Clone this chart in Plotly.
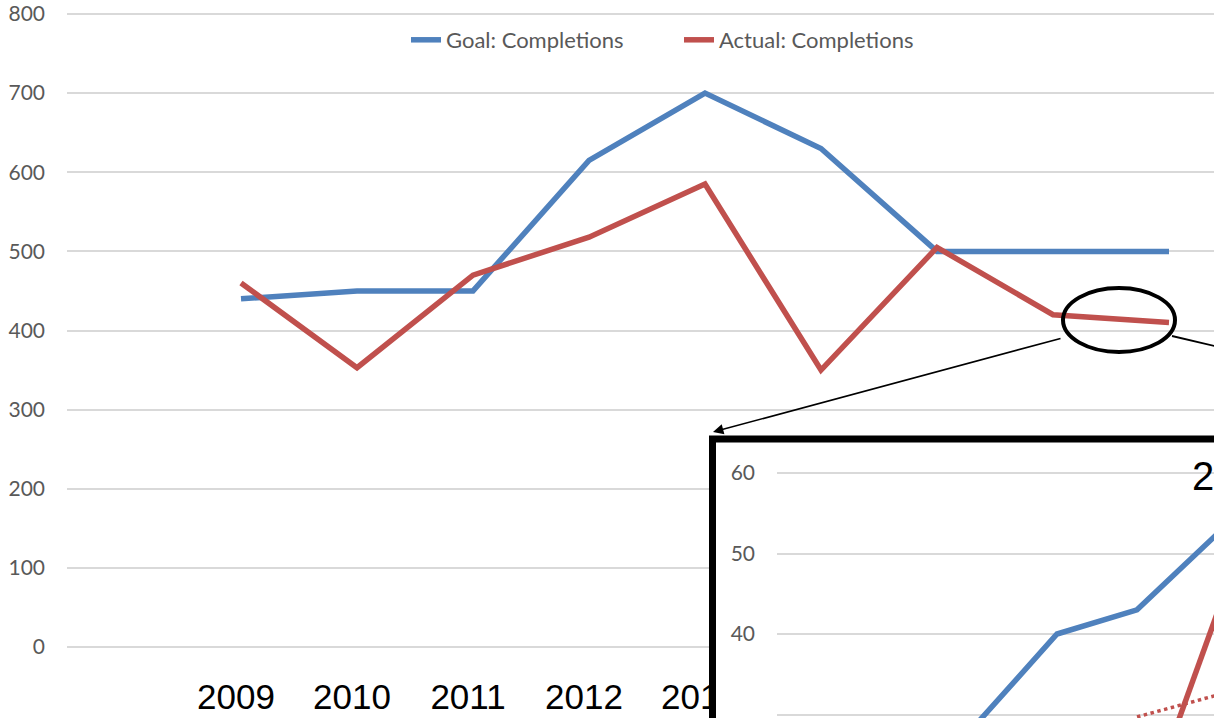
import plotly.graph_objects as go

W, H = 1214, 718

# ---- main chart data ----
years = [2009, 2010, 2011, 2012, 2013, 2014, 2015, 2016, 2017]
year_labels = [str(y) for y in years]
goal_completions = [440, 450, 450, 615, 700, 630, 500, 500, 500]
actual_completions = [460, 353, 470, 518, 585, 350, 505, 420, 410]
main_yticks = [0, 100, 200, 300, 400, 500, 600, 700, 800]

# ---- inset (zoomed) chart data ----
inset_idx = [0, 1, 2, 3, 4, 5]
inset_goal = [None, None, 28.9, 40, 43, 52.4]
inset_actual = [None, None, None, None, 15, 42.5]
inset_trend = [None, None, None, None, 29.7, 32.4]
inset_yticks = [30, 40, 50, 60]
inset_title = "2017"

BLUE = "#4F81BD"
RED = "#C0504D"
GRID = "#D9D9D9"
TICK = "#595959"


def fx(p):
    return p / W


def fy(p):
    return 1 - p / H


fig = go.Figure()

fig.add_trace(go.Scatter(x=years, y=goal_completions, mode="lines", name="Goal: Completions",
                         line=dict(color=BLUE, width=5.5), xaxis="x", yaxis="y"))
fig.add_trace(go.Scatter(x=years, y=actual_completions, mode="lines", name="Actual: Completions",
                         line=dict(color=RED, width=5.5), xaxis="x", yaxis="y"))

# dummy subplot that paints the white box of the inset
fig.add_trace(go.Scatter(x=[None], y=[None], mode="lines", showlegend=False, hoverinfo="skip",
                         xaxis="x2", yaxis="y2"))

# inset traces
fig.add_trace(go.Scatter(x=inset_idx, y=inset_goal, mode="lines", showlegend=False,
                         line=dict(color=BLUE, width=5.5), xaxis="x3", yaxis="y3"))
fig.add_trace(go.Scatter(x=inset_idx, y=inset_trend, mode="lines", showlegend=False,
                         line=dict(color=RED, width=3.5, dash="dot"), xaxis="x3", yaxis="y3"))
fig.add_trace(go.Scatter(x=inset_idx, y=inset_actual, mode="lines", showlegend=False,
                         line=dict(color=RED, width=5.5), xaxis="x3", yaxis="y3"))

k_main = (647 - 14) / 800.0  # px per unit
x_step = 116.0
k_in = (714.5 - 473) / 30.0
in_step = 80.0

fig.update_layout(
    width=W, height=H,
    margin=dict(l=0, r=0, t=0, b=0, autoexpand=False),
    paper_bgcolor="white", plot_bgcolor="white",
    showlegend=True,
    legend=dict(orientation="h", x=fx(679), xanchor="center", y=fy(40), yanchor="middle",
                font=dict(family="Lato", size=22, color=TICK), bgcolor="rgba(0,0,0,0)",
                traceorder="normal", entrywidth=228, entrywidthmode="pixels"),
    xaxis=dict(domain=[fx(67), 1], range=[2007.5, 2007.5 + (W - 67) / x_step],
               tickmode="array", tickvals=years, ticktext=year_labels,
               tickfont=dict(family="Liberation Sans", size=35, color="black"),
               showgrid=False, zeroline=False, showline=False, ticks="",
               ticklabelstandoff=3, ticklabelshift=-5, anchor="y", automargin=False),
    yaxis=dict(domain=[fy(670), fy(10)], range=[-(670 - 647) / k_main, (647 - 10) / k_main],
               tickmode="array", tickvals=main_yticks,
               tickfont=dict(family="Lato", size=21, color=TICK),
               showgrid=True, gridcolor=GRID, gridwidth=1.5, zeroline=False, showline=False,
               ticks="", ticklabelstandoff=21, anchor="x", automargin=False),
    xaxis2=dict(domain=[fx(712), 1], range=[0, 1], visible=False, anchor="y2", automargin=False),
    yaxis2=dict(domain=[0, fy(438)], range=[0, 1], visible=False, anchor="x2", automargin=False),
    xaxis3=dict(domain=[fx(777), 1], range=[-0.5, -0.5 + (W - 777) / in_step],
                showticklabels=False, showgrid=False, zeroline=False, showline=False,
                ticks="", anchor="y3", automargin=False),
    yaxis3=dict(domain=[0, fy(455)], range=[30 - (718 - 714.5) / k_in, 60 + (473 - 455) / k_in],
                tickmode="array", tickvals=inset_yticks,
                tickfont=dict(family="Lato", size=21, color=TICK),
                showgrid=True, gridcolor=GRID, gridwidth=1.5, zeroline=False, showline=False,
                ticks="", ticklabelstandoff=21, anchor="x3", automargin=False),
)

shapes = [
    # inset frame
    dict(type="rect", xref="paper", yref="paper", x0=fx(712.5), x1=fx(W + 30),
         y0=fy(H + 30), y1=fy(439), line=dict(color="black", width=7),
         fillcolor="rgba(0,0,0,0)", layer="above"),
    # ellipse highlighting the zoomed region
    dict(type="circle", xref="paper", yref="paper", x0=fx(1063), x1=fx(1175),
         y0=fy(352), y1=fy(288), line=dict(color="black", width=4), layer="above"),
    # connector to the right
    dict(type="line", xref="paper", yref="paper", x0=fx(1172), y0=fy(336),
         x1=fx(1300), y1=fy(336 + 128 * 0.235), line=dict(color="black", width=1.8),
         layer="above"),
]
fig.update_layout(shapes=shapes)

fig.add_annotation(x=fx(713), y=fy(432), xref="paper", yref="paper", text="",
                   showarrow=True, axref="pixel", ayref="pixel", ax=1062 - 713, ay=338 - 432,
                   arrowhead=2, arrowsize=1.3, arrowwidth=1.6, arrowcolor="black",
                   standoff=0, startstandoff=0)
fig.add_annotation(x=fx(1190), y=fy(476), xref="paper", yref="paper", text=inset_title,
                   showarrow=False, xanchor="left", yanchor="middle",
                   font=dict(family="Liberation Sans", size=40, color="black"))

fig.write_html("out.html")
